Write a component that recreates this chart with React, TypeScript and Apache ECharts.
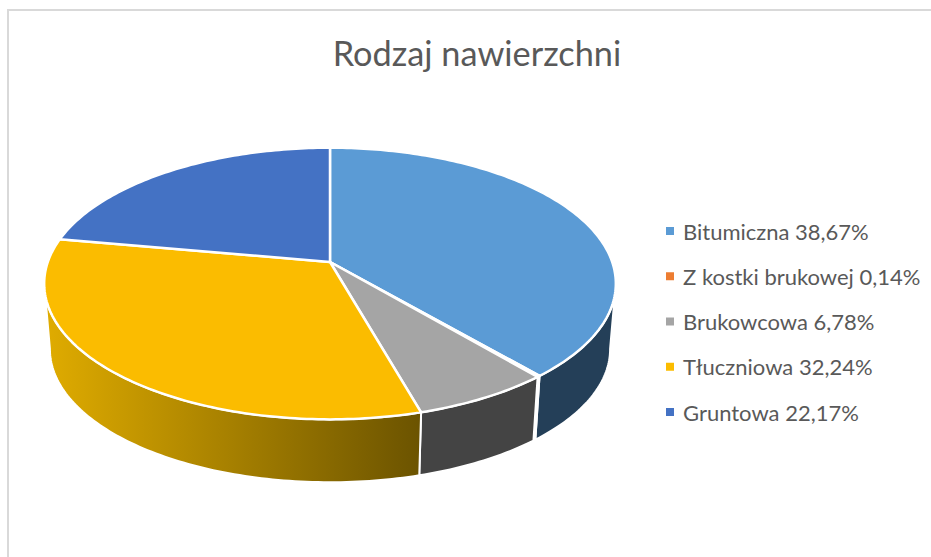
import React, { useEffect, useRef } from "react";
import * as echarts from "echarts";

const TITLE = "Rodzaj nawierzchni";
const categories = ["Bitumiczna", "Z kostki brukowej", "Brukowcowa", "Tłuczniowa", "Gruntowa"];
const values = [38.67, 0.14, 6.78, 32.24, 22.17];
const topColors = ["#5B9BD5", "#ED7D31", "#A5A5A5", "#FBBC00", "#4472C4"];
const wallStart = ["#243F58", "#8A4A1E", "#444444", "#E0AC00", "#263F6C"];
const wallEnd = ["#243F58", "#8A4A1E", "#444444", "#6B5300", "#263F6C"];

// Projection of the pie's unit circle: a tilted disc seen in perspective.
const CX = 330;
const APEX_Y = 262;
const A = 282.2;
const B = 132.4;
const K = 0.1587;
const BASE_APEX_Y = 328;
const BASE_SCALE = 0.98;

function project(deg: number, base: boolean): number[] {
  const t = (deg * Math.PI) / 180;
  const u = Math.sin(t);
  const v = -Math.cos(t);
  const d = 1 - K * v;
  const X = (A * u) / d;
  const Y = (B * v) / d;
  if (base) return [CX + X * BASE_SCALE, BASE_APEX_Y + Y * BASE_SCALE];
  return [CX + X, APEX_Y + Y];
}

function arc(a0: number, a1: number, base: boolean): number[][] {
  const n = Math.max(2, Math.ceil(Math.abs(a1 - a0) / 1));
  const pts: number[][] = [];
  for (let i = 0; i <= n; i++) pts.push(project(a0 + ((a1 - a0) * i) / n, base));
  return pts;
}

// The wall shows only between the ellipse's two widest points.
const VIS_FROM = 99;
const VIS_TO = 261;

function makeRender(idx: number) {
  return (_params: any, api: any) => {
    const total = values.reduce((s, x) => s + x, 0);
    const value = api.value(0) as number;
    const before = api.value(1) as number;
    const a0 = (before / total) * 360;
    const a1 = ((before + value) / total) * 360;
    const children: any[] = [];
    const w0 = Math.max(a0, VIS_FROM);
    const w1 = Math.min(a1, VIS_TO);
    if (w1 > w0) {
      const pts = arc(w0, w1, false).concat(arc(w0, w1, true).reverse());
      children.push({
        type: "polygon",
        z2: 1,
        shape: { points: pts },
        style: {
          fill: new echarts.graphic.LinearGradient(0, 0, 1, 0, [
            { offset: 0, color: wallStart[idx] },
            { offset: 1, color: wallEnd[idx] },
          ]),
          stroke: "#FFFFFF",
          lineWidth: 2,
          lineJoin: "round",
        },
      });
    }
    children.push({
      type: "polygon",
      z2: 10,
      shape: { points: [[CX, APEX_Y]].concat(arc(a0, a1, false)) },
      style: { fill: topColors[idx], stroke: "#FFFFFF", lineWidth: 2.5, lineJoin: "round" },
    });
    return { type: "group", children };
  };
}

const labels = categories.map((c, i) => `${c} ${values[i].toFixed(2).replace(".", ",")}%`);

export default function App() {
  const ref = useRef<HTMLDivElement>(null);
  useEffect(() => {
    const chart = echarts.init(ref.current!, undefined, { renderer: "svg" });
    let cum = 0;
    const series = categories.map((_c, i) => {
      const s = {
        type: "custom",
        name: labels[i],
        coordinateSystem: "none",
        silent: true,
        itemStyle: { color: topColors[i] },
        renderItem: makeRender(i),
        data: [[values[i], cum]],
      };
      cum += values[i];
      return s;
    });
    chart.setOption({
      animation: false,
      backgroundColor: "#FFFFFF",
      title: {
        text: TITLE,
        left: 472,
        top: 30,
        textAlign: "center",
        textStyle: { fontFamily: "Lato", fontSize: 34.3, fontWeight: "normal", color: "#595959" },
      },
      legend: {
        orient: "vertical",
        left: 661,
        top: 215,
        itemWidth: 8,
        itemHeight: 8,
        itemGap: 23.25,
        icon: "rect",
        selectedMode: false,
        data: labels,
        textStyle: {
          fontFamily: "Lato",
          fontSize: 22,
          lineHeight: 22,
          color: "#595959",
          padding: [0, 0, 0, 4],
        },
      },
      graphic: [
        {
          type: "polyline",
          silent: true,
          shape: { points: [[8, 557], [8, 10], [931, 10]] },
          style: { stroke: "#D9D9D9", lineWidth: 2, fill: "none" },
        },
      ],
      series,
    });
    return () => chart.dispose();
  }, []);
  return <div ref={ref} style={{ position: "fixed", left: 0, top: 0, width: 931, height: 557 }} />;
}
